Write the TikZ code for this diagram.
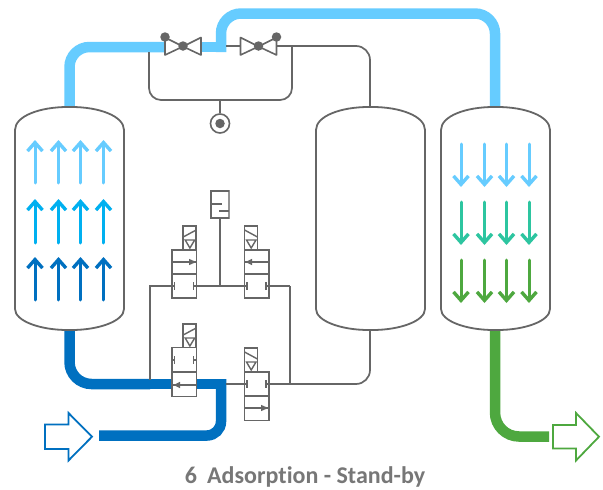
\documentclass[tikz,border=0pt]{standalone}
\usepackage{fontspec}
\setmainfont[Ligatures=NoCommon]{Carlito}
\usetikzlibrary{arrows.meta}
\definecolor{gline}{HTML}{666666}
\definecolor{ltext}{HTML}{777777}
\definecolor{lblue}{HTML}{66CCFF}
\definecolor{mblue}{HTML}{00B0F0}
\definecolor{dblue}{HTML}{0070C0}
\definecolor{teal2}{HTML}{2DC5A0}
\definecolor{green2}{HTML}{4EA83F}
\tikzset{
  x=1pt,y=-1pt,
  pipe/.style={line width=10.5pt,line join=miter},
  gl/.style={draw=gline,line width=1.7pt},
  vessel/.style={draw=gline,line width=1.8pt,fill=white,rounded corners=2pt},
  flow/.style={line width=3pt,-{Straight Barb[length=8.5pt,width=15pt,line width=3.4pt]},line cap=round},
  cell/.style={draw=gline,line width=1.5pt,fill=white,minimum width=24.5pt,minimum height=24pt,inner sep=0pt,outer sep=0pt,anchor=north west},
  sol/.style={draw=gline,line width=1.5pt,fill=white,minimum width=13pt,minimum height=24pt,inner sep=0pt,outer sep=0pt,anchor=north west},
  ball/.style={circle,fill=gline,inner sep=0pt,minimum size=9.5pt},
  outarrow/.style={line width=1.8pt,fill=white,line join=miter},
  tee/.style={draw=gline,line width=1.5pt},
}
\newcommand{\vesselshape}[2]{% left x, name
  \draw[vessel] (#1,132) .. controls (#1,116) and (#1+25,107) .. (#1+54.5,107)
     .. controls (#1+84,107) and (#1+109,116) .. (#1+109,132) -- (#1+109,307)
     .. controls (#1+109,321) and (#1+84,330) .. (#1+54.5,330)
     .. controls (#1+25,330) and (#1,321) .. (#1,307) -- cycle;
}
\newcommand{\arrowrowup}[3]{%
  \foreach \xx in {35,58.5,80.5,103.5}{\draw[flow,#1] (\xx,#2) -- (\xx,#3);}
}
\newcommand{\arrowrowdown}[3]{%
  \foreach \xx in {461,484.5,506.5,529}{\draw[flow,#1] (\xx,#2) -- (\xx,#3);}
}
% name, x, y, left-end y offset, right-end y offset
\newcommand{\sols}[5]{%
  \node[sol] (#1) at (#2,#3) {};
  \draw[gline,line width=1.4pt] (#2,#3+#4) -- (#2+13,#3+#5);
  \draw[gline,line width=1.4pt,line join=miter] (#2+2,#3+14) -- (#2+11.5,#3+14) -- (#2+6.7,#3+22) -- cycle;
}
\newcommand{\blockpair}[2]{% x y
  \draw[tee] (#1,#2) -- (#1+2.6,#2) (#1+21.6,#2) -- (#1+24.5,#2);
  \draw[tee] (#1+2.6,#2-4) -- (#1+2.6,#2+4);
  \draw[tee] (#1+21.6,#2-4) -- (#1+21.6,#2+4);
}
\begin{document}
\begin{tikzpicture}
\useasboundingbox (0,0) rectangle (603,490);
\fill[white] (0,0) rectangle (603,490);
% coordinates
\coordinate (ltop) at (69.5,107);
\coordinate (lbot) at (69.5,330);
\coordinate (rtop) at (495,107);
\coordinate (rbot) at (495,330);
\coordinate (mtop) at (370,107);
\coordinate (mbot) at (370,330);
% coloured pipes
\draw[pipe,lblue,rounded corners=20pt] (ltop) -- (69.5,47) -- (167,47);
\draw[pipe,lblue,line cap=butt] (200,47) -- (226.2,47);
\draw[pipe,lblue,rounded corners=20pt] (221,52) -- (221,13.5) -- (495,13.5) -- (rtop);
\draw[pipe,dblue,rounded corners=22pt] (lbot) -- (69.5,384) -- (150,384);
\draw[pipe,dblue] (145,384) -- (221,384);
\draw[pipe,dblue,rounded corners=14pt] (221,379) -- (221,435.5) -- (99,435.5);
\draw[pipe,green2,rounded corners=24pt] (rbot) -- (495,436.5) -- (549,436.5);
% grey lines
\draw[gl,line join=round,rounded corners=14pt] (226,46) -- (370,46) -- (mtop);
\draw[gl,rounded corners=12pt] (149,52) -- (149,100) -- (292,100) -- (292,46);
\draw[gl] (220,100) -- (220,113);
\draw[gl] (220,218) -- (220,286);
\draw[gl] (150,380) -- (150,286) -- (290,286);
\draw[gl,rounded corners=14pt] (226,384) -- (370,384) -- (mbot);
\draw[gl] (290,286) -- (290,384);
% vessels
\vesselshape{15}{lv}
\vesselshape{316}{mv}
\vesselshape{441}{rv}
% flow arrows
\arrowrowup{lblue}{183}{140}
\arrowrowup{mblue}{243}{199}
\arrowrowup{dblue}{300}{257}
\arrowrowdown{lblue}{144}{187}
\arrowrowdown{teal2}{202}{245}
\arrowrowdown{green2}{260}{303}
% stop valves
\foreach \cx/\nm in {183/va,258.5/vb}{
  \draw[draw=gline,fill=white,line width=1.6pt,line join=round]
    (\cx-18,37.5) -- (\cx,46.5) -- (\cx-18,55) -- cycle
    (\cx+18,37.5) -- (\cx,46.5) -- (\cx+18,55) -- cycle;
  \node[ball] (\nm) at (\cx,46) {};
}
\node[ball] (vaa) at (165,37) {};
\node[ball] (vba) at (276.5,37) {};
% pressure gauge
\node[circle,draw=gline,fill=white,line width=1.6pt,minimum size=19pt,inner sep=0pt] (gauge) at (220,123.5) {};
\node[ball] at (gauge) {};
% exhaust
\draw[draw=gline!70,line width=1.4pt,fill=white] (211,191) rectangle (229,218);
\draw[draw=gline,line width=1.8pt] (229,191) -- (211,191) -- (211,218) -- (229,218);
\draw[gl] (212,204) -- (222,204);
\draw[gl] (219,211) -- (229,211);
% directional valves
\sols{sa}{183.2}{226}{11}{4}
\node[cell] (a1) at (172,250) {};
\node[cell] (a2) at (172,274) {};
\draw[tee] (172,262) -- (196.5,262);
\fill[gline] (196,262) -- (189,258.8) -- (189,265.2) -- cycle;
\blockpair{172}{286}
\sols{sb}{244.5}{226}{4}{11}
\node[cell] (b1) at (244.5,250) {};
\node[cell] (b2) at (244.5,274) {};
\draw[tee] (244.5,262) -- (269,262);
\fill[gline] (245.5,262) -- (252,258.8) -- (252,265.2) -- cycle;
\blockpair{244.5}{286}
\sols{sc}{183.2}{324}{11}{4}
\node[cell] (c1) at (172,347.5) {};
\node[cell] (c2) at (172,372.5) {};
\draw[tee] (172,385) -- (196.5,385);
\fill[gline] (173.5,385) -- (180,381.8) -- (180,388.2) -- cycle;
\blockpair{172}{360}
\sols{sd}{244.5}{348}{4}{11}
\node[cell] (d1) at (244.5,372) {};
\node[cell] (d2) at (244.5,396.5) {};
\draw[tee] (244.5,408) -- (269,408);
\fill[gline] (268,408) -- (261,404.8) -- (261,411.2) -- cycle;
\blockpair{244.5}{384}
% in and out arrows
\draw[outarrow,draw=dblue] (45,424.5) -- (68.5,424.5) -- (68.5,413) -- (92,436.7) -- (68.5,460.5) -- (68.5,449) -- (45,449) -- cycle;
\draw[outarrow,draw=green2] (553,425) -- (576,425) -- (576,413) -- (599,436.7) -- (576,460.5) -- (576,448.5) -- (553,448.5) -- cycle;
\node[font=\bfseries,text=ltext] (title) at (305,477) {\fontsize{24}{27}\selectfont 6\hspace{0.42em}Adsorption - Stand-by};
\end{tikzpicture}
\end{document}
